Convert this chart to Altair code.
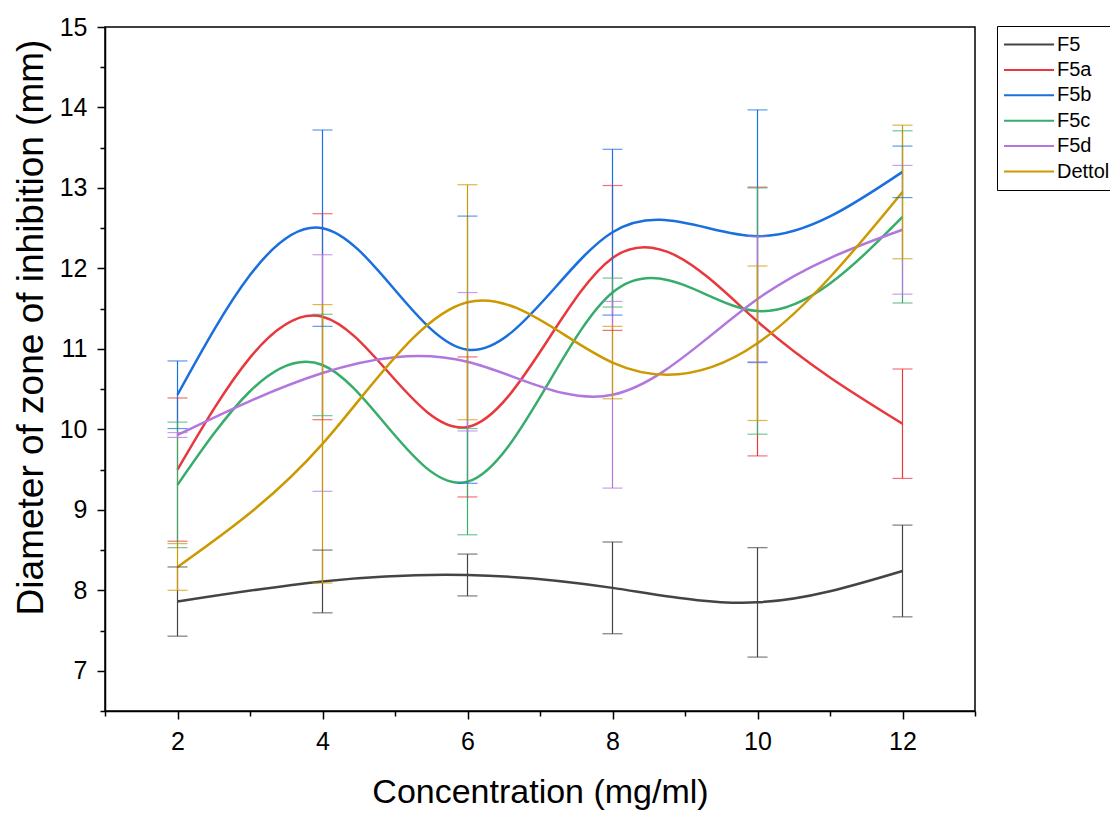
import altair as alt
import pandas as pd

conc = [2, 4, 6, 8, 10, 12]
series = ["F5", "F5a", "F5b", "F5c", "F5d", "Dettol"]
colors = ["#444444", "#E8383D", "#1A6FDF", "#37AD6B", "#B177DE", "#CC9900"]

means = {
    "F5":     [7.86, 8.11, 8.19, 8.03, 7.85, 8.24],
    "F5a":    [9.50, 11.40, 10.03, 12.13, 11.34, 10.07],
    "F5b":    [10.43, 12.50, 10.99, 12.45, 12.40, 13.20],
    "F5c":    [9.31, 10.80, 9.35, 11.70, 11.47, 12.64],
    "F5d":    [9.93, 10.70, 10.84, 10.43, 11.62, 12.48],
    "Dettol": [8.29, 9.82, 11.58, 10.83, 11.07, 12.95],
}
errors = {
    "F5":     [0.43, 0.39, 0.26, 0.57, 0.68, 0.57],
    "F5a":    [0.89, 1.28, 0.87, 0.90, 1.67, 0.68],
    "F5b":    [0.42, 1.22, 1.66, 1.03, 1.57, 0.32],
    "F5c":    [0.78, 0.63, 0.66, 0.18, 1.53, 1.07],
    "F5d":    [0.03, 1.47, 0.86, 1.16, 0.78, 0.80],
    "Dettol": [0.29, 1.73, 1.46, 0.45, 0.96, 0.83],
}

rows = []
for s in series:
    for i, c in enumerate(conc):
        m = means[s][i]
        e = errors[s][i]
        rows.append({"series": s, "order": series.index(s), "x": c, "y": m, "lo": m - e, "hi": m + e})
df = pd.DataFrame(rows)

FONT = "Liberation Sans"

x_enc = alt.X(
    "x:Q",
    scale=alt.Scale(domain=[1, 13], nice=False, zero=False),
    axis=alt.Axis(
        title="Concentration (mg/ml)",
        values=list(range(1, 14)),
        labelExpr="datum.value % 2 == 0 && datum.value >= 2 && datum.value <= 12 ? format(datum.value, 'd') : ''",
        tickSize={"condition": {"test": "datum.value % 2 == 0", "value": 8}, "value": 5},
        labelPadding=10,
        titlePadding=21,
    ),
)
y_vals = [6.5 + 0.5 * k for k in range(18)]
y_enc = alt.Y(
    "y:Q",
    scale=alt.Scale(domain=[6.5, 15], nice=False, zero=False),
    axis=alt.Axis(
        title="Diameter of zone of inhibition (mm)",
        values=y_vals,
        labelExpr="datum.value % 1 == 0 ? format(datum.value, 'd') : ''",
        tickSize={"condition": {"test": "datum.value % 1 == 0", "value": 8}, "value": 5},
        labelPadding=10,
        labelOverlap=False,
        titleX=-55,
        titleY=300,
        titleFontSize=37,
    ),
)
color_scale = alt.Scale(domain=series, range=colors)

base = alt.Chart(df)

rules = base.mark_rule(strokeWidth=1.2).encode(
    x="x:Q", y="lo:Q", y2="hi:Q",
    color=alt.Color("series:N", scale=color_scale, legend=None),
)
cap_hi = base.mark_tick(orient="horizontal", size=20, thickness=1.2).encode(
    x="x:Q", y="hi:Q",
    color=alt.Color("series:N", scale=color_scale, legend=None),
)
cap_lo = base.mark_tick(orient="horizontal", size=20, thickness=1.2).encode(
    x="x:Q", y="lo:Q",
    color=alt.Color("series:N", scale=color_scale, legend=None),
)
lines = base.mark_line(interpolate="natural", strokeWidth=2.5).encode(
    x=x_enc,
    y=y_enc,
    color=alt.Color(
        "series:N",
        scale=color_scale,
        legend=alt.Legend(
            title=None,
            orient="none",
            legendX=892,
            legendY=-1,
            symbolType="stroke",
            symbolSize=2500,
            symbolStrokeWidth=2,
            labelFontSize=20,
            labelFont=FONT,
            labelColor="black",
            labelOffset=2,
            clipHeight=25,
            rowPadding=0.4,
            strokeColor="black",
            padding=6,
            fillColor="white",
        ),
    ),
    order="order:O",
)

chart = (
    alt.layer(lines, rules, cap_hi, cap_lo)
    .properties(
        width=870,
        height=684,
        padding={"left": 97, "top": 19, "right": 135, "bottom": 99},
        autosize=alt.AutoSizeParams(type="none"),
        background="white",
    )
    .configure_view(stroke="black", strokeWidth=1.5)
    .configure_axis(
        grid=False,
        domainColor="black",
        domainWidth=1.5,
        tickColor="black",
        tickWidth=1.5,
        labelFont=FONT,
        labelFontSize=25,
        labelColor="black",
        titleFont=FONT,
        titleFontSize=34,
        titleFontWeight="normal",
        titleColor="black",
    )
)

chart.save("out.html", embed_options={"renderer": "svg", "actions": False})
